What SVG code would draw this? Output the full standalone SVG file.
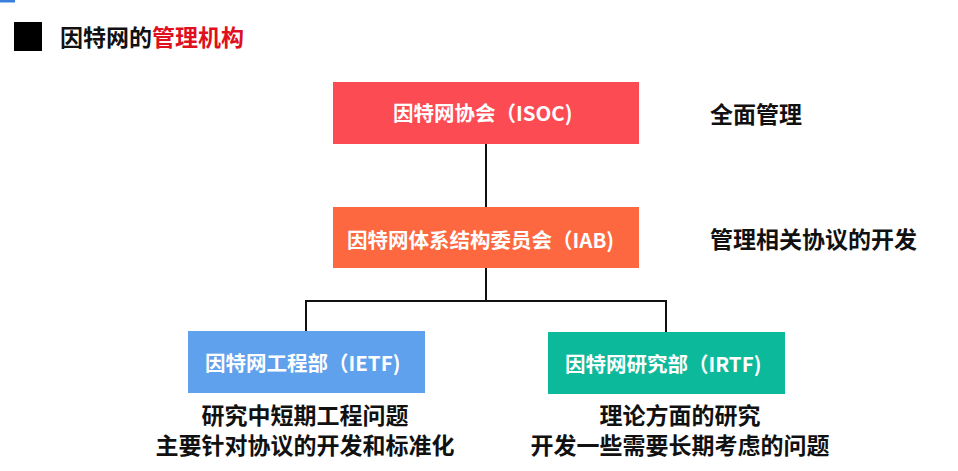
<svg xmlns="http://www.w3.org/2000/svg" width="958" height="471" viewBox="0 0 958 471">
<style>
text{font-family:"Noto Sans CJK SC","Noto Sans",sans-serif;font-weight:bold;dominant-baseline:central}
.bt{fill:#fff;font-size:20.5px}
.lbl{fill:#111;font-size:23px}
.desc{fill:#111;font-size:23px;text-anchor:middle}
.conn{fill:none;stroke:#111;stroke-width:2}
</style>
<rect width="958" height="471" fill="#fff"/>
<rect x="0" y="0" width="15" height="2.5" fill="#3a7fe0"/>
<g id="title">
<rect x="14" y="22" width="28" height="29" fill="#000"/>
<text x="60" y="36" font-size="23" fill="#111">因特网的<tspan fill="#e0101e">管理机构</tspan></text>
</g>
<g id="connectors">
<line class="conn" x1="486" y1="144" x2="486" y2="207"/>
<polyline class="conn" points="486,268 486,301"/>
<polyline class="conn" points="306,331 306,301 666,301 666,332"/>
</g>
<g id="isoc">
<rect x="333" y="82" width="306" height="62" fill="#fd4b53"/>
<text class="bt" x="393" y="112">因特网协会（ISOC)</text>
</g>
<g id="iab">
<rect x="333" y="207" width="306" height="61" fill="#fd6841"/>
<text class="bt" x="347" y="239">因特网体系结构委员会（IAB)</text>
</g>
<g id="ietf">
<rect x="188" y="331" width="237" height="62" fill="#5fa1ec"/>
<text class="bt" x="205" y="362">因特网工程部（IETF)</text>
</g>
<g id="irtf">
<rect x="548" y="332" width="237" height="62" fill="#0cb99a"/>
<text class="bt" x="565" y="363">因特网研究部（IRTF)</text>
</g>
<g id="labels">
<text class="lbl" x="710" y="113">全面管理</text>
<text class="lbl" x="710" y="238">管理相关协议的开发</text>
<text class="desc" x="305" y="414">研究中短期工程问题</text>
<text class="desc" x="305" y="444">主要针对协议的开发和标准化</text>
<text class="desc" x="680" y="414">理论方面的研究</text>
<text class="desc" x="680" y="444">开发一些需要长期考虑的问题</text>
</g>
</svg>
